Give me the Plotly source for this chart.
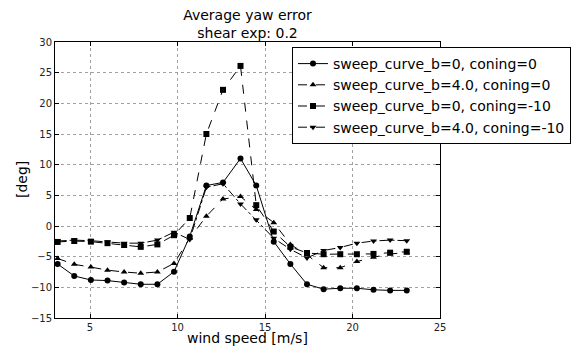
import plotly.graph_objects as go

wind_speed = [3.15, 4.1, 5.05, 6.0, 6.95, 7.9, 8.85, 9.8, 10.7, 11.65, 12.6, 13.6,
              14.5, 15.5, 16.45, 17.4, 18.35, 19.3, 20.25, 21.2, 22.15, 23.1]
b0_c0 = [-6.2, -8.15, -8.8, -8.9, -9.2, -9.5, -9.5, -7.45, -1.7, 6.6, 7.1, 11.0,
         6.6, -2.55, -6.2, -9.5, -10.3, -10.15, -10.15, -10.4, -10.5, -10.5]
b4_c0 = [-5.3, -6.25, -6.7, -7.2, -7.5, -7.7, -7.5, -6.1, -2.0, 1.6, 4.4, 4.8,
         2.7, 0.55, -3.0, -4.7, -6.8, -6.8, -5.8, -5.1, -4.55, -4.35]
b0_c10 = [-2.6, -2.45, -2.55, -2.8, -3.1, -3.4, -3.0, -1.5, 1.3, 15.0, 22.2, 26.1,
          3.4, -0.9, -3.4, -4.4, -4.6, -4.6, -4.6, -4.55, -4.35, -4.2]
b4_c10 = [-2.45, -2.3, -2.4, -2.6, -2.8, -2.8, -2.3, -1.0, -2.2, 6.3, 6.9, 3.6,
          1.0, -2.0, -3.8, -5.2, -4.0, -3.5, -2.8, -2.45, -2.3, -2.4]

series = [
    ("sweep_curve_b=0, coning=0", b0_c0, "circle", "solid"),
    ("sweep_curve_b=4.0, coning=0", b4_c0, "triangle-up", "dash"),
    ("sweep_curve_b=0, coning=-10", b0_c10, "square", "dash"),
    ("sweep_curve_b=4.0, coning=-10", b4_c10, "triangle-down", "dashdot"),
]

fig = go.Figure()
for name, ys, sym, dash in series:
    fig.add_trace(go.Scatter(
        x=wind_speed, y=ys, name=name, mode="lines+markers",
        line=dict(color="black", width=1, dash=dash),
        marker=dict(symbol=sym, size=6, color="black"),
    ))

axis_common = dict(
    showline=True, linecolor="black", linewidth=1, mirror="allticks",
    ticks="inside", ticklen=4, tickcolor="black",
    showgrid=True, gridcolor="#a0a0a0", griddash="dot", gridwidth=1,
    zeroline=False, tickfont=dict(size=10, color="#222"), automargin=False,
)

fig.update_layout(
    width=583, height=347,
    margin=dict(l=55, r=143, t=42, b=29),
    paper_bgcolor="white", plot_bgcolor="white",
    font=dict(family="DejaVu Sans", color="black"),
    title=dict(text="Average yaw error<br>shear exp: 0.2",
               xref="paper", x=0.5, xanchor="center",
               yref="container", y=0.943, yanchor="top",
               font=dict(size=14), automargin=False),
    xaxis=dict(range=[3, 25], tickvals=[5, 10, 15, 20, 25], **axis_common),
    yaxis=dict(range=[-15, 30], dtick=5, **axis_common),
    legend=dict(x=(571 - 55) / 385, y=1 - 5 / 276, xanchor="right", yanchor="top",
                bgcolor="white", bordercolor="black", borderwidth=1,
                font=dict(size=14), tracegroupgap=0, itemwidth=30),
    showlegend=True,
    annotations=[
        dict(text="wind speed [m/s]", xref="paper", yref="paper", x=0.5, y=0,
             xanchor="center", yanchor="middle", yshift=-20, borderpad=0,
             showarrow=False, font=dict(size=14)),
        dict(text="[deg]", xref="paper", yref="paper", x=0, y=0.5,
             xanchor="center", yanchor="middle", xshift=-33, textangle=-90,
             showarrow=False, font=dict(size=14)),
    ],
)

fig.write_html("out.html")
